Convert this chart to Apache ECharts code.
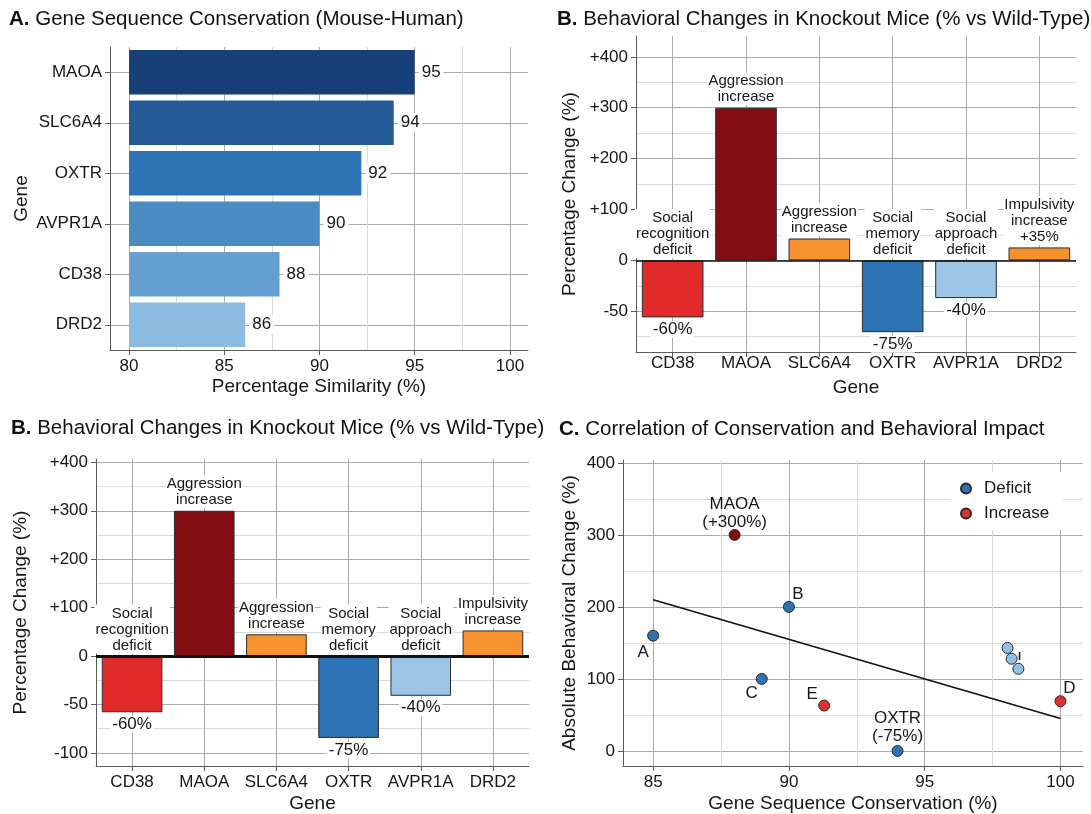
<!DOCTYPE html>
<html><head><meta charset="utf-8">
<script src="https://cdn.jsdelivr.net/npm/echarts@6/dist/echarts.min.js"></script>
<style>html,body{margin:0;padding:0;background:#fff}#c{width:1091px;height:814px}</style>
</head><body><div id="c"></div>
<script>
// ---------------- DATA ----------------
// Panel A: conservation
const consGenes = ['MAOA', 'SLC6A4', 'OXTR', 'AVPR1A', 'CD38', 'DRD2'];
const consValues = [95, 93.9, 92.2, 90, 87.9, 86.1];
const consLabels = ['95', '94', '92', '90', '88', '86'];
const consBase = 80;
const consTicks = [80, 85, 90, 95, 100];
const consMinorTicks = [82.5, 87.5, 92.5, 97.5];

// Panel B: behavioural change (two versions)
const behGenes = ['CD38', 'MAOA', 'SLC6A4', 'OXTR', 'AVPR1A', 'DRD2'];
const behValuesTop = [-56, 300, 43, -70.5, -37, 25.5];
const behValuesBottom = [-58, 300, 45, -84.5, -41, 53];
const behDescTop = ['Social\nrecognition\ndeficit', 'Aggression\nincrease', 'Aggression\nincrease', 'Social\nmemory\ndeficit', 'Social\napproach\ndeficit', 'Impulsivity\nincrease\n+35%'];
const behDescBottom = ['Social\nrecognition\ndeficit', 'Aggression\nincrease', 'Aggression\nincrease', 'Social\nmemory\ndeficit', 'Social\napproach\ndeficit', 'Impulsivity\nincrease'];
const behPct = ['-60%', '', '', '-75%', '-40%', ''];
const behTicksTop = [-50, 0, 100, 200, 300, 400];
const behTicksBottom = [-100, -50, 0, 100, 200, 300, 400];
const behMinorTicks = [-75, -25, 50, 150, 250, 350];

// Panel C: correlation
const corrX = [85, 88, 90, 89, 91.3, 94, 98.05, 98.2, 98.45, 100];
const corrY = [160, 300, 200, 100, 63, 0, 143, 128, 114, 69];
const corrType = ['Deficit', 'Increase', 'Deficit', 'Deficit', 'Increase', 'Deficit', 'Deficit', 'Deficit', 'Deficit', 'Increase'];
const corrLabel = ['A', 'MAOA\n(+300%)', 'B', 'C', 'E', 'OXTR\n(-75%)', '', 'I', '', 'D'];
const fitX = [85, 100];
const fitY = [210, 45];
const corrXTicks = [85, 90, 95, 100];
const corrXMinor = [87.5, 92.5, 97.5];
const corrYTicks = [0, 100, 200, 300, 400];
const corrYMinor = [50, 150, 250, 350];

// ---------------- STYLE ----------------
const FONT = "'Liberation Sans', Arial, Helvetica, sans-serif";
const TXT = '#161616';
const AXIS = '#5c5c5c';
const GRID = '#ababab';
const MINOR = '#dadada';
const consColors = ['#173f78', '#245b97', '#2c74b3', '#4a8bc4', '#659fd1', '#8bbbe1'];
const behColors = ['#e12b2b', '#840c14', '#f7922f', '#2c73b5', '#9cc5e6', '#f7922f'];
const pointColors = ['#2f73b5', '#7c0c12', '#2f73b5', '#2f73b5', '#e03030', '#2f73b5', '#90bfe4', '#90bfe4', '#90bfe4', '#e03030'];
const pointLabelOffset = [[-10, 17], [0, -22], [9, -13], [-10, 14], [-12, -11], [0, -24], [0, 0], [8, -2], [0, 0], [9, -13]];

// negative values are drawn at double scale (as in the original figure)
function disp(v) { return v < 0 ? v * 2 : v; }
function fmtBeh(d) { if (d > 0) return '+' + d; if (d < 0) return String(d / 2); return '0'; }

const nameStyle = { color: TXT, fontSize: 19, fontFamily: FONT };
const labStyle = { color: TXT, fontSize: 17, fontFamily: FONT };

function valueAxis(o) {
  return {
    type: 'value', gridIndex: o.grid, min: o.min, max: o.max, position: o.position,
    axisLine: { show: true, onZero: false, lineStyle: { color: AXIS, width: 1 } },
    axisTick: { show: true, length: 5, lineStyle: { color: AXIS }, customValues: o.ticks },
    axisLabel: Object.assign({ customValues: o.ticks, margin: o.margin == null ? 8 : o.margin, formatter: o.fmt }, labStyle),
    splitLine: { show: true, lineStyle: { color: GRID, width: 1 } },
    name: o.name, nameLocation: 'middle', nameGap: o.nameGap, nameTextStyle: nameStyle
  };
}
function minorAxis(o) {
  return {
    type: 'value', gridIndex: o.grid, min: o.min, max: o.max, position: o.position,
    axisLine: { show: false }, axisTick: { show: false, customValues: o.ticks },
    axisLabel: { show: false, customValues: o.ticks },
    splitLine: { show: true, lineStyle: { color: MINOR, width: 1 } }, z: 0
  };
}
function catAxis(o) {
  return {
    type: 'category', gridIndex: o.grid, data: o.data, inverse: !!o.inverse, position: o.position,
    axisLine: { show: true, onZero: false, lineStyle: { color: AXIS, width: 1 } },
    axisTick: { show: true, alignWithLabel: true, length: 5, lineStyle: { color: AXIS } },
    axisLabel: Object.assign({ interval: 0, margin: o.margin == null ? 8 : o.margin }, labStyle),
    splitLine: { show: true, alignWithLabel: true, lineStyle: { color: GRID, width: 1 } },
    name: o.name, nameLocation: 'middle', nameGap: o.nameGap, nameTextStyle: nameStyle
  };
}

function titleItem(letter, text, left, top) {
  return {
    text: '{b|' + letter + '} ' + text, left: left, top: top, padding: 0,
    textStyle: { color: '#111', fontSize: 20.5, fontWeight: 'normal', fontFamily: FONT,
      rich: { b: { fontWeight: 'bold', fontSize: 20.5, fontFamily: FONT, color: '#111' } } }
  };
}

function behSeries(xi, yi, vals, desc, thick) {
  return [
    {
      type: 'bar', xAxisIndex: xi, yAxisIndex: yi, barWidth: '84%', z: 3,
      data: vals.map((v, i) => ({ value: disp(v), itemStyle: { color: behColors[i] } })),
      itemStyle: { borderColor: '#2b2b2b', borderWidth: 1 },
      markLine: { silent: true, symbol: 'none', label: { show: false },
        lineStyle: { color: '#111', width: thick, type: 'solid' }, data: [{ yAxis: 0 }] }
    },
    {
      type: 'scatter', xAxisIndex: xi, yAxisIndex: yi, symbolSize: 1, silent: true, z: 6,
      itemStyle: { color: 'rgba(0,0,0,0)', opacity: 1 },
      data: vals.map((v, i) => [i, Math.max(disp(v), 0)]),
      label: { show: true, position: 'top', distance: 2, formatter: p => desc[p.dataIndex],
        fontSize: 15, lineHeight: 16, color: TXT, fontFamily: FONT, backgroundColor: '#fff', padding: [1, 1, 0, 1] }
    },
    {
      type: 'scatter', xAxisIndex: xi, yAxisIndex: yi, symbolSize: 1, silent: true, z: 6,
      itemStyle: { color: 'rgba(0,0,0,0)', opacity: 1 },
      data: vals.map((v, i) => v < 0 ? { value: [i, disp(v)], label: { formatter: behPct[i] } } : null).filter(d => d),
      label: { show: true, position: 'bottom', distance: 3, fontSize: 17, color: TXT, fontFamily: FONT,
        backgroundColor: '#fff', padding: [0, 2] }
    }
  ];
}

function corrSeries(type) {
  const data = [];
  corrX.forEach((x, i) => {
    if (corrType[i] !== type) return;
    data.push({
      value: [x, corrY[i]],
      itemStyle: { color: pointColors[i] },
      label: { show: !!corrLabel[i], formatter: corrLabel[i], position: 'inside', offset: pointLabelOffset[i],
        fontSize: corrLabel[i] === 'I' ? 11 : 17, fontWeight: corrLabel[i] === 'I' ? 'bold' : 'normal',
        lineHeight: 18, color: TXT, fontFamily: FONT }
    });
  });
  return {
    type: 'scatter', name: type, xAxisIndex: 4, yAxisIndex: 5, symbolSize: 11, z: 5,
    itemStyle: { color: type === 'Deficit' ? '#2f73b5' : '#e03030', borderColor: '#2a2a2a', borderWidth: 1, opacity: 1 },
    data: data
  };
}

const option = {
  backgroundColor: '#fff',
  animation: false,
  textStyle: { fontFamily: FONT },
  title: [
    titleItem('A.', 'Gene Sequence Conservation (Mouse-Human)', 9, 9),
    titleItem('B.', 'Behavioral Changes in Knockout Mice (% vs Wild-Type)', 557, 9),
    titleItem('B.', 'Behavioral Changes in Knockout Mice (% vs Wild-Type)', 11, 418),
    titleItem('C.', 'Correlation of Conservation and Behavioral Impact', 559, 419)
  ],
  grid: [
    { left: 110, top: 47, width: 418, height: 303 },
    { left: 636, top: 36, width: 440, height: 316 },
    { left: 96, top: 459, width: 433, height: 308 },
    { left: 623, top: 460, width: 460, height: 307 }
  ],
  xAxis: [
    valueAxis({ grid: 0, min: 79, max: 100.95, ticks: consTicks, name: 'Percentage Similarity (%)', nameGap: 27, margin: 8 }),
    minorAxis({ grid: 0, min: 79, max: 100.95, ticks: consMinorTicks, position: 'top' }),
    catAxis({ grid: 1, data: behGenes, name: 'Gene', nameGap: 26, margin: 3 }),
    catAxis({ grid: 2, data: behGenes, name: 'Gene', nameGap: 28, margin: 8 }),
    valueAxis({ grid: 3, min: 83.89, max: 100.83, ticks: corrXTicks, name: 'Gene Sequence Conservation (%)', nameGap: 28, margin: 8 }),
    minorAxis({ grid: 3, min: 83.89, max: 100.83, ticks: corrXMinor, position: 'top' })
  ],
  yAxis: [
    catAxis({ grid: 0, data: consGenes, inverse: true, name: 'Gene', nameGap: 79 }),
    valueAxis({ grid: 1, min: -180, max: 441, ticks: behTicksTop.map(disp), fmt: fmtBeh, name: 'Percentage Change (%)', nameGap: 57 }),
    minorAxis({ grid: 1, min: -180, max: 441, ticks: behMinorTicks.map(disp), position: 'right' }),
    valueAxis({ grid: 2, min: -227, max: 407, ticks: behTicksBottom.map(disp), fmt: fmtBeh, name: 'Percentage Change (%)', nameGap: 66 }),
    minorAxis({ grid: 2, min: -227, max: 407, ticks: behMinorTicks.map(disp), position: 'right' }),
    valueAxis({ grid: 3, min: -21, max: 404, ticks: corrYTicks, name: 'Absolute Behavioral Change (%)', nameGap: 44 }),
    minorAxis({ grid: 3, min: -21, max: 404, ticks: corrYMinor, position: 'right' })
  ],
  legend: {
    data: ['Deficit', 'Increase'], orient: 'vertical', left: 950, top: 472,
    padding: [8, 14, 8, 10], itemGap: 8, itemWidth: 26, itemHeight: 10, icon: 'circle',
    backgroundColor: '#fff', textStyle: { fontSize: 17, color: TXT, fontFamily: FONT }
  },
  series: [
    {
      type: 'bar', xAxisIndex: 0, yAxisIndex: 0, stack: 'cons', silent: true, barCategoryGap: '12%',
      itemStyle: { color: 'rgba(0,0,0,0)' },
      data: consGenes.map(() => consBase)
    },
    {
      type: 'bar', xAxisIndex: 0, yAxisIndex: 0, stack: 'cons', barCategoryGap: '12%', z: 3,
      data: consValues.map((v, i) => ({ value: v - consBase, itemStyle: { color: consColors[i] } })),
      label: { show: true, position: 'right', distance: 4, formatter: p => consLabels[p.dataIndex],
        fontSize: 17, color: TXT, fontFamily: FONT, backgroundColor: '#fff', padding: [1, 3] }
    },
    ...behSeries(2, 1, behValuesTop, behDescTop, 1.5),
    ...behSeries(3, 3, behValuesBottom, behDescBottom, 3),
    {
      type: 'line', xAxisIndex: 4, yAxisIndex: 5, symbol: 'none', silent: true, z: 4,
      lineStyle: { color: '#111', width: 1.6 },
      data: fitX.map((x, i) => [x, fitY[i]])
    },
    corrSeries('Deficit'),
    corrSeries('Increase')
  ]
};

const chart = echarts.init(document.getElementById('c'), null, { renderer: 'canvas' });
chart.setOption(option);
</script>
</body></html>
